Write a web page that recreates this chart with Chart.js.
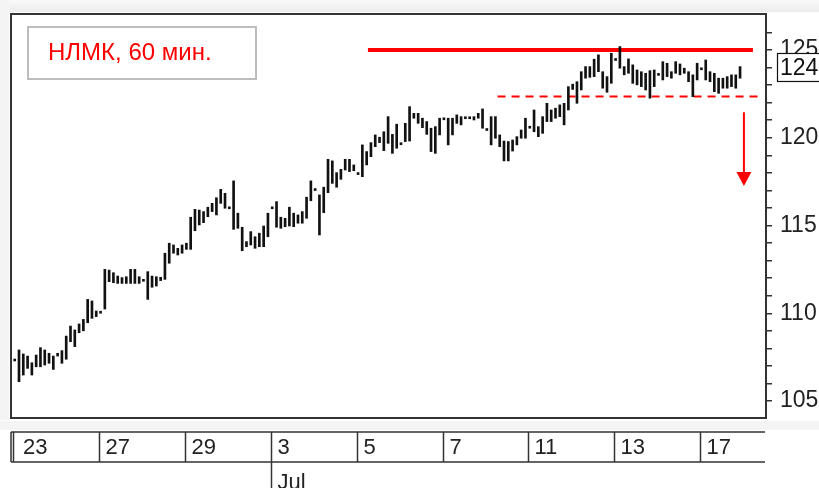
<!DOCTYPE html>
<html>
<head>
<meta charset="utf-8">
<script src="https://cdn.jsdelivr.net/npm/chart.js@4.4.1/dist/chart.umd.min.js"></script>
<style>
  html, body { margin: 0; padding: 0; background: #fff; }
</style>
</head>
<body>
<canvas id="c" width="819" height="488"></canvas>
<script>
// hourly bars, low / high (one entry per bar)
const barLows = [
  107.28, 106.10, 106.48, 106.86, 106.48, 106.95, 106.95, 107.05, 107.15, 106.80,
  107.56, 107.15, 107.38, 108.38, 108.10, 108.89, 109.00, 109.46, 109.71, 109.81,
  110.00, 110.24, 111.80, 111.74, 111.70, 111.70, 111.70, 111.70, 111.70, 111.70,
  111.82, 110.79, 111.48, 111.55, 111.86, 111.93, 112.85, 113.42, 113.32, 113.42,
  113.64, 113.64, 114.70, 115.03, 115.16, 115.50, 115.79, 115.60, 116.26, 115.98,
  115.95, 114.78, 114.84, 113.56, 113.79, 113.89, 113.70, 113.79, 113.79, 114.36,
  115.95, 114.90, 114.84, 114.93, 114.97, 114.93, 115.13, 115.13, 115.41, 116.41,
  116.99, 114.46, 115.73, 116.87, 117.40, 117.18, 117.63, 118.16, 118.07, 118.12,
  117.90, 117.78, 118.45, 118.92, 119.49, 119.72, 119.26, 119.68, 119.11, 119.40,
  119.60, 119.78, 119.81, 121.11, 120.82, 120.57, 120.19, 119.21, 119.11, 120.16,
  121.02, 119.59, 120.16, 120.82, 120.73, 121.08, 121.08, 121.01, 121.11, 120.54,
  120.41, 119.59, 119.97, 119.49, 118.68, 118.68, 119.24, 119.59, 119.97, 119.97,
  120.54, 120.34, 120.06, 120.25, 120.92, 120.92, 121.11, 121.20, 120.73, 121.58,
  122.75, 121.96, 122.72, 123.39, 123.44, 123.48, 123.76, 122.82, 122.59, 123.10,
  124.40, 123.96, 123.58, 123.67, 123.10, 123.01, 122.91, 122.72, 122.25, 122.91,
  123.55, 123.29, 123.48, 123.39, 123.67, 123.58, 123.67, 123.19, 122.34, 123.29,
  123.87, 123.29, 123.19, 122.62, 122.53, 122.82, 122.82, 122.91, 122.82, 123.39
];
const barHighs = [
  107.36, 107.91, 107.68, 107.56, 107.18, 107.62, 108.04, 107.91, 107.72, 107.56,
  107.72, 107.87, 108.70, 109.27, 109.05, 109.39, 109.65, 110.79, 110.70, 110.13,
  110.08, 112.50, 112.46, 112.31, 112.12, 112.03, 112.08, 112.50, 112.50, 112.08,
  111.88, 112.37, 112.12, 112.08, 112.05, 113.42, 113.99, 113.89, 113.70, 113.89,
  113.99, 115.47, 115.92, 115.88, 115.79, 116.04, 116.26, 116.58, 117.06, 116.83,
  116.01, 117.54, 115.70, 114.90, 114.08, 114.65, 114.36, 114.56, 114.97, 115.70,
  116.01, 116.36, 115.47, 115.41, 116.04, 115.70, 115.60, 115.79, 116.61, 117.54,
  117.05, 116.74, 117.18, 118.77, 118.68, 118.01, 118.20, 118.77, 118.77, 118.45,
  117.96, 119.59, 119.21, 119.72, 120.16, 120.03, 120.34, 121.20, 120.19, 120.77,
  119.66, 120.82, 121.77, 121.39, 121.39, 121.11, 120.92, 120.54, 120.63, 121.11,
  121.08, 121.11, 121.11, 121.30, 121.20, 121.14, 121.14, 121.20, 121.39, 121.64,
  120.47, 121.20, 121.20, 120.16, 119.81, 119.78, 119.87, 120.06, 120.44, 121.11,
  120.60, 121.58, 120.63, 121.20, 121.96, 121.58, 121.68, 121.87, 121.96, 122.91,
  123.05, 123.19, 123.76, 124.05, 124.05, 124.47, 124.72, 123.76, 123.48, 124.81,
  124.46, 125.19, 124.05, 124.49, 124.15, 123.86, 123.76, 123.67, 123.82, 123.86,
  123.61, 124.33, 124.24, 123.76, 124.33, 124.20, 123.96, 123.76, 123.58, 124.24,
  123.93, 124.43, 123.76, 123.67, 123.39, 123.39, 123.48, 123.58, 123.58, 124.05
];

// date strip: first bar of each labelled session
const dayStarts = [0, 20, 40, 60, 80, 100, 120, 140, 160];
const dayNames = ['23', '27', '29', '3', '5', '7', '11', '13', '17'];
const monthStarts = [60];
const monthNames = ['Jul'];

const chartTitle = 'НЛМК, 60 мин.';
const lastPrice = 124;

// drawn levels (bar index, price)
const resistanceX = [82.3, 172];
const resistanceLevel = 125;
const supportX = [112.5, 173.2];
const supportLevel = 122.35;
const arrowAt = 169.9;
const arrowFrom = 121.45;
const arrowTip = 117.25;

const FONT = '"Liberation Sans", Arial, sans-serif';

const decor = {
  id: 'decor',
  beforeDraw(chart) {
    const ctx = chart.ctx;
    ctx.save();
    ctx.fillStyle = '#fff';
    ctx.fillRect(0, 0, chart.width, chart.height);
    const g = ctx.createLinearGradient(0, 0, 0, 12);
    g.addColorStop(0, '#f9f9f9');
    g.addColorStop(1, '#ececec');
    ctx.fillStyle = g;
    ctx.fillRect(0, 0, chart.width, 12);
    ctx.fillStyle = '#f4f4f4';
    ctx.fillRect(0, 0, 9, 420);
    ctx.fillRect(0, 421, chart.width, 9);
    ctx.restore();
  },
  afterDatasetsDraw(chart) {
    const ctx = chart.ctx;
    const a = chart.chartArea;
    const xs = chart.scales.x;
    const ys = chart.scales.y;
    ctx.save();

    // arrow
    ctx.strokeStyle = '#ff0000';
    ctx.fillStyle = '#ff0000';
    const ax = xs.getPixelForValue(arrowAt);
    const tip = ys.getPixelForValue(arrowTip);
    ctx.lineWidth = 2;
    ctx.beginPath();
    ctx.moveTo(ax, ys.getPixelForValue(arrowFrom));
    ctx.lineTo(ax, tip - 12);
    ctx.stroke();
    ctx.beginPath();
    ctx.moveTo(ax - 7.5, tip - 14);
    ctx.lineTo(ax + 7.5, tip - 14);
    ctx.lineTo(ax, tip);
    ctx.closePath();
    ctx.fill();

    // frame
    ctx.strokeStyle = '#333';
    ctx.lineWidth = 2;
    ctx.strokeRect(a.left - 1, a.top - 1, a.right - a.left + 2, a.bottom - a.top + 2);

    // title box
    ctx.fillStyle = '#fff';
    ctx.fillRect(28, 27, 228, 52);
    ctx.strokeStyle = '#bdbdbd';
    ctx.lineWidth = 2;
    ctx.strokeRect(28, 27, 228, 52);
    ctx.fillStyle = '#ff0000';
    ctx.font = '24px ' + FONT;
    ctx.textBaseline = 'middle';
    ctx.textAlign = 'left';
    ctx.fillText(chartTitle, 48, 53);

    // date strip
    const top = a.bottom + 15, bot = a.bottom + 45;
    ctx.strokeStyle = '#333';
    ctx.lineWidth = 1.5;
    ctx.beginPath();
    ctx.moveTo(a.left - 1, top); ctx.lineTo(a.right, top);
    ctx.moveTo(a.left - 1, bot); ctx.lineTo(a.right, bot);
    ctx.moveTo(a.left - 1, top); ctx.lineTo(a.left - 1, bot);
    ctx.stroke();
    ctx.fillStyle = '#222';
    ctx.font = '22px ' + FONT;
    dayStarts.forEach((d, k) => {
      const px = Math.round(xs.getPixelForValue(d - 0.3)) + 0.5;
      ctx.beginPath();
      ctx.moveTo(px, top); ctx.lineTo(px, bot);
      ctx.stroke();
      ctx.fillText(dayNames[k], Math.max(px, a.left + 5) + 6, (top + bot) / 2 + 1);
    });
    monthStarts.forEach((d, k) => {
      const px = Math.round(xs.getPixelForValue(d - 0.3)) + 0.5;
      ctx.beginPath();
      ctx.moveTo(px, bot); ctx.lineTo(px, chart.height);
      ctx.stroke();
      ctx.fillText(monthNames[k], px + 6, bot + 21);
    });
    ctx.restore();
  },
  afterDraw(chart) {
    const ctx = chart.ctx;
    const ys = chart.scales.y;
    const py = ys.getPixelForValue(lastPrice);
    ctx.save();
    ctx.fillStyle = '#fff';
    ctx.fillRect(777, py - 14, 50, 28);
    ctx.strokeStyle = '#111';
    ctx.lineWidth = 1.2;
    ctx.strokeRect(777.5, py - 14, 50, 28);
    ctx.fillStyle = '#111';
    ctx.font = '23px ' + FONT;
    ctx.textBaseline = 'middle';
    ctx.fillText(String(lastPrice), 780, py + 1);
    ctx.restore();
  }
};

new Chart(document.getElementById('c'), {
  type: 'bar',
  data: {
    datasets: [
      {
        data: barLows.map((l, i) => ({ x: i, y: [l, barHighs[i]] })),
        backgroundColor: '#111',
        borderWidth: 0,
        barThickness: 2,
        minBarLength: 2
      },
      {
        type: 'line',
        data: resistanceX.map(x => ({ x: x, y: resistanceLevel })),
        borderColor: '#ff0000',
        borderWidth: 4,
        pointRadius: 0
      },
      {
        type: 'line',
        data: supportX.map(x => ({ x: x, y: supportLevel })),
        borderColor: '#ff0000',
        borderWidth: 2,
        borderDash: [8, 6],
        pointRadius: 0
      }
    ]
  },
  options: {
    responsive: false,
    animation: false,
    layout: { padding: { left: 12, top: 15, right: 0, bottom: 71 } },
    plugins: { legend: { display: false }, tooltip: { enabled: false } },
    scales: {
      x: { type: 'linear', display: false, offset: false, min: -0.63, max: 174.81 },
      y: {
        position: 'right',
        min: 104.09,
        max: 126.99,
        afterFit: s => { s.width = 54; s.paddingTop = 0; s.paddingBottom = 0; },
        border: { display: false },
        grid: { drawOnChartArea: false, drawTicks: true, tickLength: 7, color: '#333', lineWidth: 1.5 },
        ticks: {
          stepSize: 1,
          includeBounds: false,
          autoSkip: false,
          padding: 8,
          color: '#222',
          font: { family: 'Liberation Sans', size: 23 },
          callback: v => (v % 5 === 0 ? String(v) : '')
        }
      }
    }
  },
  plugins: [decor]
});
</script>
</body>
</html>
